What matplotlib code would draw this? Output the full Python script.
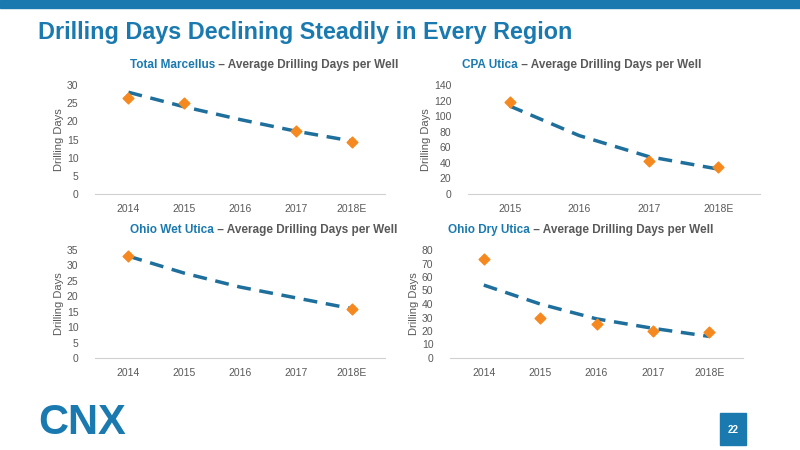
import numpy as np
import matplotlib
matplotlib.use("Agg")
import matplotlib.pyplot as plt
from matplotlib.patches import Rectangle

plt.rcParams['font.family'] = ['Liberation Sans', 'DejaVu Sans']

nan = np.nan
cats_a = ["2014", "2015", "2016", "2017", "2018E"]
cats_cpa = ["2015", "2016", "2017", "2018E"]

marcellus_vals = [26.5, 25.0, nan, 17.3, 14.3]
marcellus_trend = [28.0, 24.0, 20.5, 17.3, 14.6]
cpa_vals = [118, nan, 42, 35]
cpa_trend = [113, 75, 48, 32]
wet_vals = [33, nan, nan, nan, 16]
wet_trend = [33, 27.5, 23, 19.5, 16]
dry_vals = [73, 30, 25, 20, 19]
dry_trend = [54, 40, 29, 22, 16]

BLUE = "#1a7ab0"
ORANGE = "#f5891f"
GRAY = "#595959"

fig = plt.figure(figsize=(8, 4.5), dpi=100)
W, H = 800, 450
fig.patches.append(Rectangle((0, 1 - 8 / H), 1, 8 / H, transform=fig.transFigure, color="#1a7ab0"))
fig.text(38 / W, 1 - 33 / H, "Drilling Days Declining Steadily in Every Region", color=BLUE,
         fontsize=16.8, fontweight="bold", va="center")

titles = []

def panel(box, cats, vals, trend, ylim, step, region, tx):
    x0, y0, x1, y1 = box
    ax = fig.add_axes([x0 / W, 1 - y1 / H, (x1 - x0) / W, (y1 - y0) / H])
    x = np.arange(len(cats))
    ax.plot(x, trend, ls=(0, (4, 2.5)), color="#1f6f9c", lw=2.5, zorder=2)
    ax.scatter(x, vals, marker="D", s=30, color=ORANGE, zorder=3)
    ax.set_xlim(-0.6, len(cats) - 0.4)
    ax.set_ylim(0, ylim)
    ax.set_yticks(np.arange(0, ylim + 1, step))
    ax.set_xticks(x, cats)
    for s in ["top", "right", "left"]:
        ax.spines[s].set_visible(False)
    ax.spines["bottom"].set_color("#d0d0d0")
    ax.tick_params(length=0, labelsize=7.5, labelcolor=GRAY, pad=7)
    ax.tick_params(axis="y", pad=12)
    ax.set_ylabel("Drilling Days", fontsize=8, color=GRAY, labelpad=2)
    ty = 1 - (y0 - 20) / H
    a = fig.text(tx / W, ty, region, ha="left", va="center",
                 fontsize=8.5, fontweight="bold", color=BLUE)
    titles.append((a, ty))
    return ax

panel((95, 85, 385, 194), cats_a, marcellus_vals, marcellus_trend, 30, 5, "Total Marcellus", 130)
panel((468, 85, 760, 194), cats_cpa, cpa_vals, cpa_trend, 140, 20, "CPA Utica", 462)
panel((95, 250, 385, 358), cats_a, wet_vals, wet_trend, 35, 5, "Ohio Wet Utica", 130)
panel((450, 250, 743, 358), cats_a, dry_vals, dry_trend, 80, 10, "Ohio Dry Utica", 448)

fig.canvas.draw()
r = fig.canvas.get_renderer()
for a, ty in titles:
    bb = a.get_window_extent(r)
    fig.text(bb.x1 / W, ty, " \u2013 Average Drilling Days per Well", ha="left", va="center",
             fontsize=8.5, fontweight="bold", color=GRAY)

fig.text(38 / W, 1 - 423 / H, "CNX", color=BLUE, fontsize=30, fontweight="bold", va="center")
fig.patches.append(Rectangle((720 / W, 1 - 445 / H), 26 / W, 32 / H, transform=fig.transFigure,
                             color=BLUE))
fig.text(733 / W, 1 - 430 / H, "22", color="white", fontsize=7, fontweight="bold",
         ha="center", va="center")

fig.savefig("out.png", dpi=100)
